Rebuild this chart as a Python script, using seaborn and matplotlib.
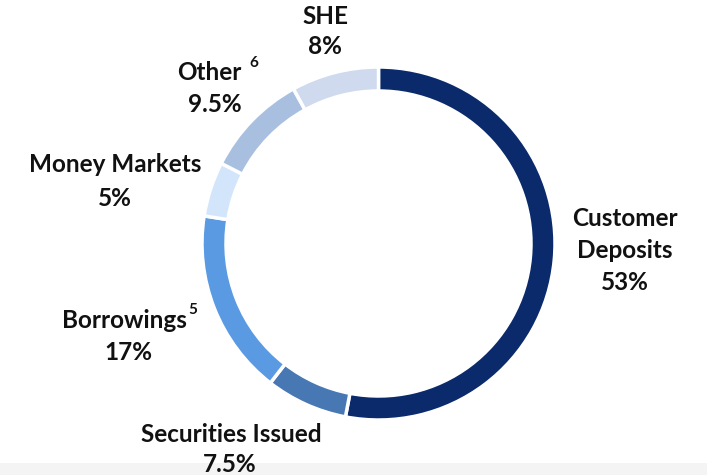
import matplotlib
matplotlib.use("Agg")
import matplotlib.pyplot as plt
import seaborn as sns
from matplotlib.patches import Rectangle

sns.set_theme(style="white")
plt.rcParams["font.family"] = ["Lato", "DejaVu Sans"]

# Funding mix
categories = ["Customer Deposits", "Securities Issued", "Borrowings",
              "Money Markets", "Other", "SHE"]
shares = [53, 7.5, 17, 5, 9.5, 8]
share_labels = ["53%", "7.5%", "17%", "5%", "9.5%", "8%"]
colors = ["#0a2a6b", "#4878b4", "#5a9ae3", "#d2e5fb", "#a8bfe0", "#cfdaee"]

W, H = 707, 475
fig = plt.figure(figsize=(W / 100, H / 100), dpi=100)
ax = fig.add_axes([0, 0, 1, 1])

# light footer band
ax.add_patch(Rectangle((0, 0), W, H - 463, color="#f4f4f4", lw=0, zorder=0))

cx, cy, r = 378.5, H - 243.5, 176.5
ax.pie(shares, colors=colors, startangle=90, counterclock=False,
       center=(cx, cy), radius=r, frame=True,
       wedgeprops=dict(width=24, edgecolor="white", linewidth=2.5))
ax.set_xlim(0, W)
ax.set_ylim(0, H)
ax.set_aspect("equal")
ax.axis("off")

fs = 17.5
def label(x, y, s, size=fs, note=None, gap=2):
    t = ax.text(x, H - y, s, ha="center", va="center", fontsize=size,
                fontweight="bold", color="#111111")
    if note:
        ax.annotate(note, xy=(1, 1), xycoords=t, xytext=(gap, 4),
                    textcoords="offset points", ha="left", va="top",
                    fontsize=11, fontweight="bold", color="#111111")
    return t

# names and values (pixel positions from the top-left)
label(325, 17, "SHE")
label(325, 47, share_labels[5])
label(209, 73, "Other", note="6", gap=6)
label(215, 104, share_labels[4])
label(115, 165, "Money Markets")
label(115, 198, share_labels[3])
label(124, 320, "Borrowings", note="5", gap=1)
label(128, 352, share_labels[2])
label(231, 434, "Securities Issued")
label(230, 465, share_labels[1])
label(625, 218, "Customer")
label(625, 250, "Deposits")
label(625, 283, share_labels[0])

fig.savefig("out.png", dpi=100, facecolor="white")
